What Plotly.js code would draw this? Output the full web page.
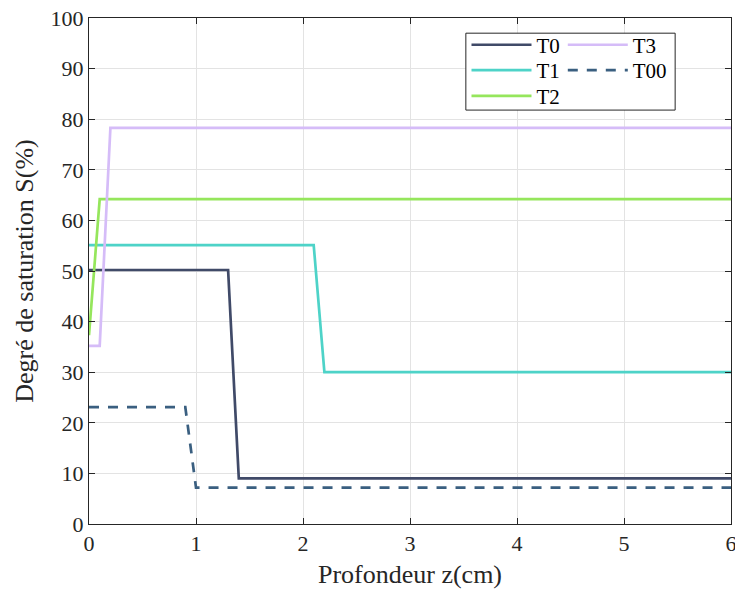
<!DOCTYPE html>
<html>
<head>
<meta charset="utf-8">
<script src="https://cdn.plot.ly/plotly-3.0.1.min.js"></script>
<style>html,body{margin:0;padding:0;background:#fff;}#chart{width:735px;height:592px;}</style>
</head>
<body>
<div id="chart"></div>
<script>
// Data
const seriesNames = ["T0", "T1", "T2", "T3", "T00"];
const x_T0 = [0, 1.3, 1.4, 6];
const y_T0 = [50.2, 50.2, 9.0, 9.0];
const x_T1 = [0, 2.1, 2.2, 6];
const y_T1 = [55.1, 55.1, 30.0, 30.0];
const x_T2 = [0, 0.1, 6];
const y_T2 = [37.3, 64.2, 64.2];
const x_T3 = [0, 0.1, 0.2, 6];
const y_T3 = [35.2, 35.2, 78.3, 78.3];
const x_T00 = [0, 0.9, 1.0, 6];
const y_T00 = [23.1, 23.1, 7.2, 7.2];
const xTicks = [0, 1, 2, 3, 4, 5, 6];
const yTicks = [0, 10, 20, 30, 40, 50, 60, 70, 80, 90, 100];

const colors = {T0: "#404a68", T1: "#4ed3c8", T2: "#95e65c", T3: "#d5bcf8", T00: "#3a5f80"};
const FONT = "Liberation Serif, Times New Roman, serif";
const LW = 2.7;

const traces = [
  {x: x_T0, y: y_T0, name: "T0", legend: "legend",
   line: {color: colors.T0, width: LW}},
  {x: x_T1, y: y_T1, name: "T1", legend: "legend2",
   line: {color: colors.T1, width: LW}},
  {x: x_T2, y: y_T2, name: "T2", legend: "legend3",
   line: {color: colors.T2, width: LW}},
  {x: x_T3, y: y_T3, name: "T3", legend: "legend4",
   line: {color: colors.T3, width: LW}},
  {x: x_T00, y: y_T00, name: "T00", legend: "legend5",
   line: {color: colors.T00, width: LW, dash: "10px,9px"}}
].map(t => Object.assign({type: "scatter", mode: "lines"}, t));

const axisCommon = {
  showline: true, linecolor: "#262626", linewidth: 1, mirror: "ticks",
  ticks: "inside", ticklen: 6, tickcolor: "#262626", tickwidth: 1,
  showgrid: true, gridcolor: "#e3e3e3", gridwidth: 1,
  zeroline: false, ticklabeloverflow: "allow",
  tickfont: {family: FONT, size: 22, color: "#262626"}
};

const legendCommon = {
  bgcolor: "rgba(0,0,0,0)", borderwidth: 0,
  font: {family: FONT, size: 21, color: "#000"},
  itemwidth: 60, yanchor: "top", xanchor: "left",
  orientation: "v"
};

const col1 = 0.588, col2 = 0.738;
const row1 = 0.987, row2 = 0.937, row3 = 0.886;

const layout = {
  width: 735, height: 592,
  margin: {l: 89, r: 4, t: 18, b: 68},
  paper_bgcolor: "#fff", plot_bgcolor: "#fff",
  font: {family: FONT, color: "#262626"},
  xaxis: Object.assign({}, axisCommon, {
    range: [0, 6], tickvals: xTicks, ticktext: xTicks.map(String),
    title: {text: "Profondeur z(cm)", font: {family: FONT, size: 26, color: "#262626"}, standoff: 9}
  }),
  yaxis: Object.assign({}, axisCommon, {
    range: [0, 100], tickvals: yTicks, ticktext: yTicks.map(String),
    title: {text: "Degré de saturation S(%)", font: {family: FONT, size: 26, color: "#262626"}, standoff: 9}
  }),
  legend: Object.assign({}, legendCommon, {x: col1, y: row1}),
  legend2: Object.assign({}, legendCommon, {x: col1, y: row2}),
  legend3: Object.assign({}, legendCommon, {x: col1, y: row3}),
  legend4: Object.assign({}, legendCommon, {x: col2, y: row1}),
  legend5: Object.assign({}, legendCommon, {x: col2, y: row2}),
  shapes: [{
    type: "rect", xref: "paper", yref: "paper",
    x0: 0.587, x1: 0.913, y0: 0.818, y1: 0.970,
    line: {color: "#262626", width: 1}, fillcolor: "#fff", layer: "above"
  }],
  showlegend: true
};

Plotly.newPlot("chart", traces, layout, {displayModeBar: false, staticPlot: true});
</script>
</body>
</html>
